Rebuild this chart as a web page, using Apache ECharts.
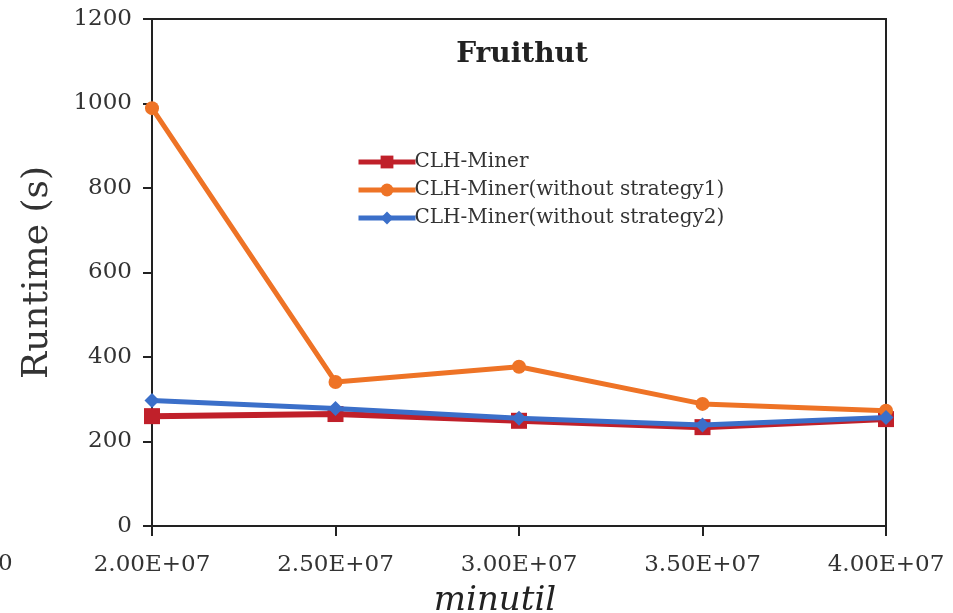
<!DOCTYPE html>
<html><head><meta charset="utf-8">
<script src="https://cdn.jsdelivr.net/npm/echarts@6/dist/echarts.min.js"></script>
<style>html,body{margin:0;padding:0;background:#fff}#c{width:953px;height:613px}</style>
</head><body><div id="c"></div>
<script>
const categories = ['2.00E+07','2.50E+07','3.00E+07','3.50E+07','4.00E+07'];
const seriesNames = ['CLH-Miner','CLH-Miner(without strategy1)','CLH-Miner(without strategy2)'];
const clhMiner = [260, 265, 249, 234, 253];
const withoutS1 = [989, 341, 377, 289, 273];
const withoutS2 = [297, 278, 255, 239, 257];
const yTicks = {min: 0, max: 1200, interval: 200};

const chart = echarts.init(document.getElementById('c'));
const serif = 'DejaVu Serif';
chart.setOption({
  animation: false,
  backgroundColor: '#fff',
  title: {text: 'Fruithut', left: 517, top: 36, textAlign: 'center',
    textStyle: {fontFamily: serif, fontWeight: 'bold', fontSize: 28, color: '#222'}},
  grid: {left: 152, right: 67, top: 19, bottom: 87, show: true, borderColor: '#222', borderWidth: 2,
    outerBoundsMode: 'none', containLabel: false},
  legend: {orient: 'vertical', left: 356, top: 152, padding: 0, itemWidth: 57, itemHeight: 16, itemGap: 8,
    textStyle: {fontFamily: serif, fontSize: 20, color: '#333', padding: [0,0,0,-6]},
    lineStyle: {width: 5},
    data: seriesNames},
  xAxis: {type: 'category', data: categories, boundaryGap: false,
    axisLine: {lineStyle: {color: '#222', width: 2}},
    axisTick: {show: true, length: 10, inside: false, lineStyle: {color: '#222', width: 2}},
    axisLabel: {fontFamily: serif, fontSize: 23, color: '#333', margin: 28},
    name: 'minutil', nameLocation: 'middle', nameGap: 58,
    nameTextStyle: {fontFamily: serif, fontStyle: 'italic', fontSize: 34, color: '#222', padding: [0, 48, 0, 0]},
    splitLine: {show: false}},
  yAxis: {type: 'value', min: yTicks.min, max: yTicks.max, interval: yTicks.interval,
    axisLine: {show: true, lineStyle: {color: '#222', width: 2}},
    axisTick: {show: true, length: 9, lineStyle: {color: '#222', width: 2}},
    axisLabel: {fontFamily: serif, fontSize: 23, color: '#333', margin: 20, formatter: v => String(v)},
    name: 'Runtime (s)', nameLocation: 'middle', nameGap: 96, nameRotate: 90,
    nameTextStyle: {fontFamily: serif, fontSize: 36, color: '#333'},
    splitLine: {show: false}},
  series: [
    {name: seriesNames[0], type: 'line', data: clhMiner, color: '#C0202A',
      symbol: 'rect', symbolSize: 16, lineStyle: {width: 6}, z: 2},
    {name: seriesNames[1], type: 'line', data: withoutS1, color: '#EE7326',
      symbol: 'circle', symbolSize: 14, lineStyle: {width: 5}, z: 3},
    {name: seriesNames[2], type: 'line', data: withoutS2, color: '#3B6FC9',
      symbol: 'diamond', symbolSize: 15, lineStyle: {width: 5}, z: 4}
  ],
  graphic: [{type: 'text', left: -2, top: 553, style: {text: '0', fontFamily: serif, fontSize: 23, fill: '#333'}}]
});
</script></body></html>
